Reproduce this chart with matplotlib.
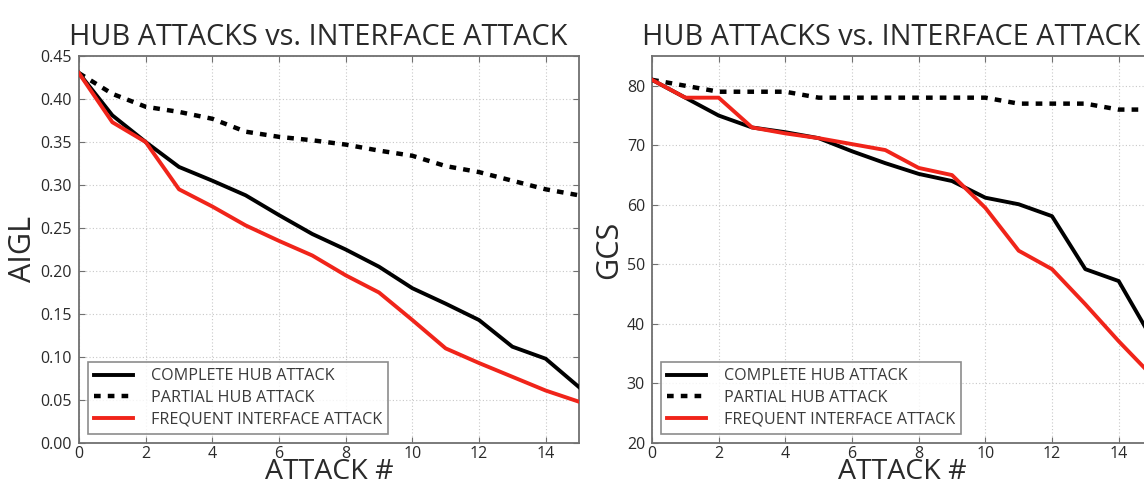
import matplotlib
matplotlib.use("Agg")
import matplotlib.pyplot as plt
from matplotlib.ticker import FormatStrFormatter, MultipleLocator

# ---------------- data ----------------
attack = list(range(16))

aigl_complete = [0.430, 0.381, 0.350, 0.321, 0.305, 0.288, 0.265, 0.243,
                 0.225, 0.205, 0.180, 0.162, 0.143, 0.112, 0.098, 0.065]
aigl_partial = [0.430, 0.406, 0.391, 0.385, 0.377, 0.362, 0.356, 0.352,
                0.347, 0.340, 0.334, 0.322, 0.315, 0.305, 0.295, 0.288]
aigl_interface = [0.430, 0.373, 0.350, 0.295, 0.275, 0.253, 0.235, 0.218,
                  0.195, 0.175, 0.143, 0.110, 0.093, 0.077, 0.061, 0.048]

gcs_complete = [81, 78, 75, 73, 72.2, 71.2, 69, 67, 65.2, 64, 61.2, 60.1,
                58.1, 49.2, 47.2, 37.5]
gcs_partial = [81, 80, 79, 79, 79, 78, 78, 78, 78, 78, 78, 77, 77, 77, 76, 76]
gcs_interface = [81, 78, 78, 73, 72, 71.2, 70.2, 69.2, 66.2, 65, 59.5, 52.3,
                 49.2, 43.3, 37.1, 31.3]

labels = ["COMPLETE HUB ATTACK", "PARTIAL HUB ATTACK", "FREQUENT INTERFACE ATTACK"]
title = "HUB ATTACKS vs. INTERFACE ATTACK"
xlabel = "ATTACK #"
xticks = [0, 2, 4, 6, 8, 10, 12, 14]

# ---------------- style ----------------
plt.rcParams['font.family'] = ['Open Sans', 'DejaVu Sans']
W, H = 1144, 486
fig = plt.figure(figsize=(W / 100, H / 100), dpi=100)
fig.patch.set_facecolor("white")

RED = "#f0241a"
SPINE = "#707070"
TXT = "#2a2a2a"


def make_axes(rect, series, ylabel, ylim, ystep, yfmt):
    ax = fig.add_axes(rect)
    c, p, f = series
    ax.plot(attack, c, color="black", lw=2.8, label=labels[0],
            solid_joinstyle="round", zorder=3)
    ax.plot(attack, p, color="black", lw=3.2, linestyle=(0, (1.5, 1.6)),
            dash_capstyle="butt", label=labels[1], zorder=3)
    ax.plot(attack, f, color=RED, lw=2.8, label=labels[2],
            solid_joinstyle="round", zorder=4)
    ax.set_xlim(0, 15)
    ax.set_ylim(*ylim)
    ax.set_xticks(xticks)
    ax.yaxis.set_major_locator(MultipleLocator(ystep))
    ax.yaxis.set_major_formatter(FormatStrFormatter(yfmt))
    ax.grid(True, color="#c8c8c8", linestyle=(0, (1, 2)), lw=0.8)
    ax.tick_params(direction="in", top=True, right=True, length=4,
                   color=SPINE, labelsize=11.5, labelcolor=TXT)
    ax.tick_params(axis="x", pad=2)
    ax.tick_params(axis="y", pad=5)
    for s in ax.spines.values():
        s.set_color(SPINE)
        s.set_linewidth(1.3)
    ax.set_title(title, fontsize=20.8, color=TXT, pad=8, x=0.478)
    ax.set_xlabel(xlabel, fontsize=20.5, color=TXT, labelpad=-3)
    ax.set_ylabel(ylabel, fontsize=22, color=TXT, labelpad=2)
    leg = ax.legend(loc="lower left", fontsize=11.6, fancybox=False,
                    frameon=True, handlelength=2.4, handletextpad=1.1,
                    borderpad=0.4, labelspacing=0.35,
                    bbox_to_anchor=(0.0, 0.0), borderaxespad=0.55)
    fr = leg.get_frame()
    fr.set_edgecolor(SPINE)
    fr.set_linewidth(1.2)
    for t in leg.get_texts():
        t.set_color("#3a3a3a")
    return ax


top, bot = 56, 443
ax_w = 500
make_axes([79 / W, (H - bot) / H, ax_w / W, (bot - top) / H],
          (aigl_complete, aigl_partial, aigl_interface),
          "AIGL", (0, 0.45), 0.05, "%.2f")
make_axes([652 / W, (H - bot) / H, ax_w / W, (bot - top) / H],
          (gcs_complete, gcs_partial, gcs_interface),
          "GCS", (20, 85), 10, "%d")

fig.savefig("out.png", dpi=100)
